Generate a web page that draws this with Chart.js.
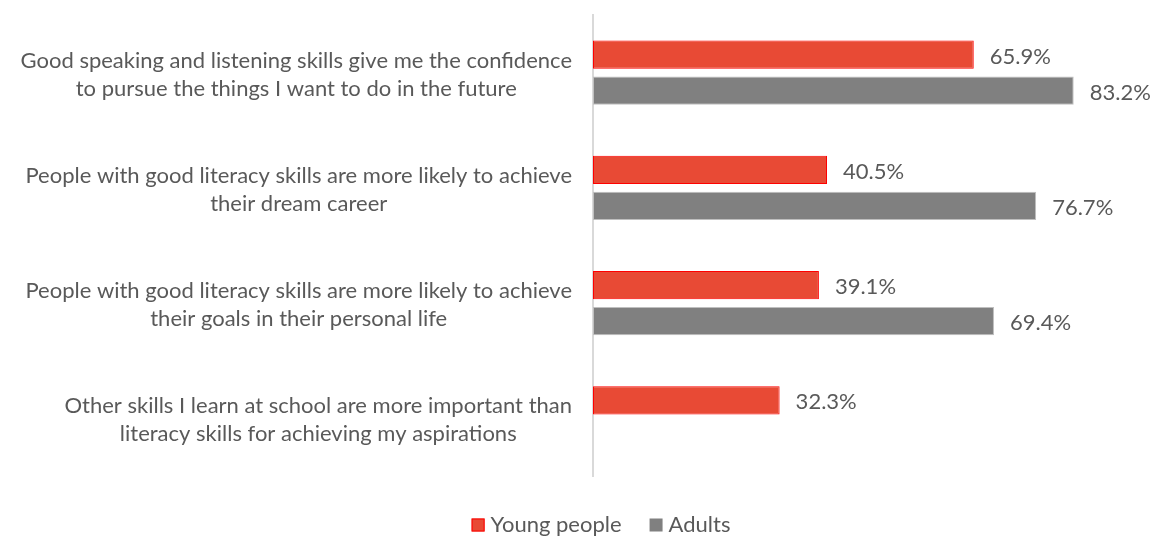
<!DOCTYPE html>
<html>
<head>
<meta charset="utf-8">
<script src="https://cdn.jsdelivr.net/npm/chart.js@4"></script>
<style>
  html, body { margin: 0; padding: 0; background: #fff; }
  #wrap { width: 1153px; height: 538px; }
</style>
</head>
<body>
<div id="wrap"><canvas id="attitudeChart"></canvas></div>
<script>
/* Data */
const statements = [
  ["Good speaking and listening skills give me the confidence", "to pursue the things I want to do in the future"],
  ["People with good literacy skills are more likely to achieve", "their dream career"],
  ["People with good literacy skills are more likely to achieve", "their goals in their personal life"],
  ["Other skills I learn at school are more important than", "literacy skills for achieving my aspirations"],
];
const youngPeople = [65.9, 40.5, 39.1, 32.3];
const adults = [83.2, 76.7, 69.4, null];

const FONT = "Lato, 'Open Sans', sans-serif";
const FONT_SIZE = 22;
const TEXT = "#595959";
// Lato sits a little high with textBaseline "middle"
const TEXT_NUDGE = 2;

/* statement labels: block right-aligned, each line centred in the block */
const statementLabels = {
  id: "statementLabels",
  afterDraw(chart) {
    const { ctx } = chart;
    const yScale = chart.scales.y;
    const right = chart.chartArea.left - 21;
    const lineH = 28;
    ctx.save();
    ctx.font = FONT_SIZE + "px " + FONT;
    ctx.fillStyle = TEXT;
    ctx.textAlign = "center";
    ctx.textBaseline = "middle";
    statements.forEach((lines, i) => {
      const w = Math.max(...lines.map((l) => ctx.measureText(l).width));
      const cx = right - w / 2;
      const cy = yScale.getPixelForValue(i) + TEXT_NUDGE;
      const top = cy - ((lines.length - 1) * lineH) / 2;
      lines.forEach((l, j) => ctx.fillText(l, cx, top + j * lineH));
    });
    ctx.restore();
  },
};

/* value labels at the end of each bar */
const valueLabels = {
  id: "valueLabels",
  afterDatasetsDraw(chart) {
    const { ctx } = chart;
    ctx.save();
    ctx.font = FONT_SIZE + "px " + FONT;
    ctx.fillStyle = TEXT;
    ctx.textAlign = "left";
    ctx.textBaseline = "middle";
    chart.data.datasets.forEach((ds, di) => {
      chart.getDatasetMeta(di).data.forEach((bar, i) => {
        const v = ds.data[i];
        if (v === null) return;
        ctx.fillText(v.toFixed(1) + "%", bar.x + 16, bar.y + TEXT_NUDGE);
      });
    });
    ctx.restore();
  },
};

/* legend row under the plot */
const bottomLegend = {
  id: "bottomLegend",
  afterDraw(chart) {
    const { ctx } = chart;
    const centreX = 601;
    const y = 525;
    const box = 13;
    const gap = 6;
    const itemGap = 28;
    ctx.save();
    ctx.font = FONT_SIZE + "px " + FONT;
    ctx.textBaseline = "middle";
    ctx.textAlign = "left";
    const items = chart.data.datasets.map((ds) => ({
      ds,
      w: box + gap + ctx.measureText(ds.label).width,
    }));
    const total = items.reduce((s, it) => s + it.w, 0) + itemGap * (items.length - 1);
    let x = centreX - total / 2;
    items.forEach(({ ds, w }) => {
      ctx.fillStyle = ds.backgroundColor;
      ctx.fillRect(x, y - box / 2, box, box);
      if (ds.legendBorder) {
        ctx.strokeStyle = ds.legendBorder;
        ctx.lineWidth = 1;
        ctx.strokeRect(x + 0.5, y - box / 2 + 0.5, box - 1, box - 1);
      }
      ctx.fillStyle = TEXT;
      ctx.fillText(ds.label, x + box + gap, y);
      x += w + itemGap;
    });
    ctx.restore();
  },
};

new Chart(document.getElementById("attitudeChart"), {
  type: "bar",
  data: {
    labels: statements,
    datasets: [
      {
        label: "Young people",
        data: youngPeople,
        backgroundColor: "#E84A35",
        borderColor: "#FF0000",
        legendBorder: "#FF0000",
        borderWidth: 1,
        borderSkipped: false,
        categoryPercentage: 0.625,
        barPercentage: 0.78,
      },
      {
        label: "Adults",
        data: adults,
        backgroundColor: "#808080",
        borderColor: "#BFBFBF",
        borderWidth: 1,
        borderSkipped: false,
        categoryPercentage: 0.625,
        barPercentage: 0.78,
      },
    ],
  },
  options: {
    indexAxis: "y",
    responsive: true,
    maintainAspectRatio: false,
    animation: false,
    layout: { padding: { left: 0, right: 40, top: 15, bottom: 62 } },
    scales: {
      x: {
        min: 0,
        max: 90,
        display: false,
      },
      y: {
        grid: { display: false },
        ticks: { display: false },
        border: { display: true, color: "#D9D9D9", width: 2 },
        afterFit(scale) {
          scale.width = 593;
        },
      },
    },
    plugins: {
      legend: { display: false },
      tooltip: { enabled: false },
    },
  },
  plugins: [statementLabels, valueLabels, bottomLegend],
});
</script>
</body>
</html>
